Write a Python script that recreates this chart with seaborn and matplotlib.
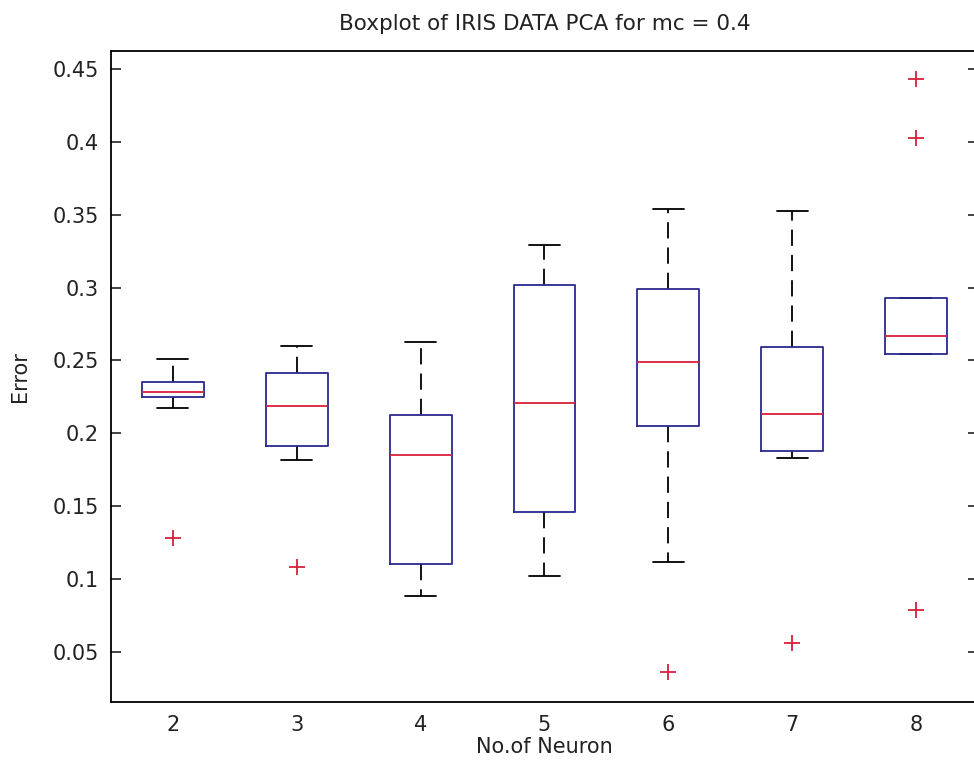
import matplotlib
matplotlib.use("Agg")
import matplotlib.pyplot as plt
import seaborn as sns
import pandas as pd

# Sample values per neuron count, read so that the quartiles, whiskers and
# outliers match the reference boxplot
neurons = ["2", "3", "4", "5", "6", "7", "8"]
err_2 = [0.128, 0.2176, 0.2248, 0.2270, 0.2286, 0.2320, 0.2355, 0.2450, 0.2508]
err_3 = [0.1085, 0.1817, 0.1913, 0.2050, 0.2190, 0.2300, 0.2412, 0.2500, 0.2602]
err_4 = [0.0884, 0.1000, 0.1104, 0.1500, 0.1852, 0.2000, 0.2126, 0.2400, 0.2627]
err_5 = [0.1021, 0.1200, 0.1458, 0.1800, 0.2206, 0.2600, 0.3018, 0.3150, 0.3292]
err_6 = [0.0365, 0.1117, 0.2051, 0.2250, 0.2492, 0.2750, 0.2990, 0.3300, 0.3537]
err_7 = [0.0562, 0.1833, 0.1876, 0.2000, 0.2136, 0.2350, 0.2590, 0.3000, 0.3523]
err_8 = [0.0785, 0.2543, 0.2547, 0.2600, 0.2671, 0.2800, 0.2931, 0.4029, 0.4433]
y_ticks = [0.05, 0.1, 0.15, 0.2, 0.25, 0.3, 0.35, 0.4, 0.45]
y_tick_labels = ["0.05", "0.1", "0.15", "0.2", "0.25", "0.3", "0.35", "0.4", "0.45"]

groups = [err_2, err_3, err_4, err_5, err_6, err_7, err_8]
rows = []
for n, vals in zip(neurons, groups):
    for v in vals:
        rows.append({"neuron": n, "error": v})
df = pd.DataFrame(rows)

sns.set_style("white")
plt.rcParams["font.family"] = ["DejaVu Sans"]

fig = plt.figure(figsize=(9.74, 7.67), dpi=100)
ax = fig.add_axes([0.114, 0.0847, 0.890, 0.849])

box_col = "#2a2a90"
med_col = "#d8203c"

sns.boxplot(
    data=df, x="neuron", y="error", order=neurons, ax=ax,
    fill=False, width=0.5, whis=1.5, linewidth=1.3, linecolor=box_col,
    capwidths=0.25,
    boxprops=dict(color=box_col, linewidth=1.3, zorder=3),
    medianprops=dict(color=med_col, linewidth=1.3, zorder=3.5),
    whiskerprops=dict(color="black", linewidth=1.3, linestyle=(0, (9, 5)), zorder=2),
    capprops=dict(color="black", linewidth=1.3, zorder=2),
    flierprops=dict(marker="+", markeredgecolor=med_col, markerfacecolor=med_col,
                    markersize=11, markeredgewidth=1.3, linestyle="none", zorder=3),
)

ax.set_xlim(-0.5, 6.5)
ax.set_ylim(0.0157, 0.4624)
ax.set_yticks(y_ticks)
ax.set_yticklabels(y_tick_labels)

for s in ax.spines.values():
    s.set_color("black")
    s.set_linewidth(1.3)
    s.set_visible(True)

ax.tick_params(axis="y", direction="in", length=7, width=1.2, left=True, right=True,
               labelsize=15, pad=9, colors="#222222")
ax.tick_params(axis="x", length=0, labelsize=15, pad=9, colors="#222222")

ax.set_xlabel("No.of Neuron", fontsize=15, labelpad=2, color="#222222")
ax.set_ylabel("Error", fontsize=15, color="#222222")
ax.yaxis.set_label_coords(-0.093, 0.5)
ax.set_title("Boxplot of IRIS DATA PCA for mc = 0.4", fontsize=15.5, pad=15, color="#222222")
ax.grid(False)

fig.savefig("out.png", dpi=100, facecolor="white")
